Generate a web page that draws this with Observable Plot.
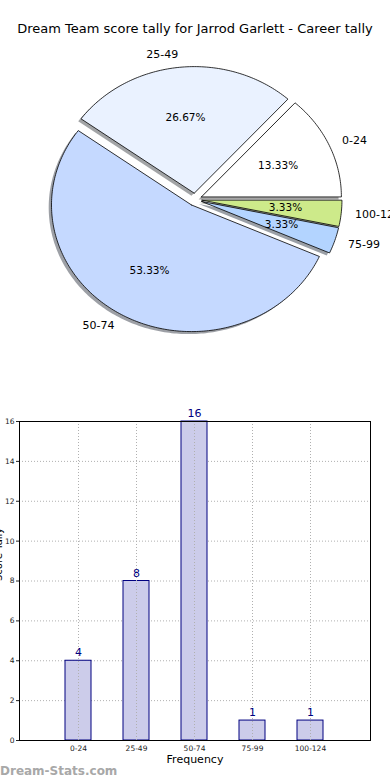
<!DOCTYPE html>
<html><head><meta charset="utf-8">
<script src="https://cdn.jsdelivr.net/npm/d3@7"></script>
<script src="https://cdn.jsdelivr.net/npm/@observablehq/plot@0.6"></script>
<style>
body{margin:0;background:#fff;font-family:"DejaVu Sans",sans-serif;}
#wrap{position:relative;width:390px;height:780px;overflow:hidden;}
#title{position:absolute;top:21px;left:0;width:390px;text-align:center;font-size:13px;color:#000;white-space:nowrap;}
#pie{position:absolute;top:0;left:0;}
#bar{position:absolute;top:400px;left:0;}
#wm{position:absolute;left:0;top:764px;font-size:12px;font-weight:bold;color:#a8a8a8;}
svg{font-family:"DejaVu Sans",sans-serif;}
</style></head>
<body><div id="wrap"><div id="pie"></div><div id="title">Dream Team score tally for Jarrod Garlett - Career tally</div><div id="bar"></div><div id="wm">Dream-Stats.com</div></div>
<script>
const categories = ["0-24", "25-49", "50-74", "75-99", "100-124"];
const tallies = [4, 8, 16, 1, 1];
const sliceColors = ["#ffffff", "#eaf2ff", "#c5d9ff", "#b3d4ff", "#cdea8a"];
const yTicks = [0, 2, 4, 6, 8, 10, 12, 14, 16];

const explode = 0.05, labelDist = 1.1, pctDist = 0.6;
const total = d3.sum(tallies);
const rad = Math.PI / 180;
let acc = 0;
const slices = categories.map((c, i) => {
  const a0 = acc, a1 = acc + tallies[i] / total * 360; acc = a1;
  const mid = (a0 + a1) / 2;
  const ox = explode * Math.cos(mid * rad), oy = explode * Math.sin(mid * rad);
  return {cat: c, value: tallies[i], a0, a1, mid, ox, oy, color: sliceColors[i],
    lx: ox + labelDist * Math.cos(mid * rad), ly: oy + labelDist * Math.sin(mid * rad),
    px: ox + pctDist * Math.cos(mid * rad), py: oy + pctDist * Math.sin(mid * rad),
    pct: (tallies[i] / total * 100).toFixed(2) + "%"};
});
function wedge(s) {
  const pts = [{x: s.ox, y: s.oy}];
  const n = Math.max(4, Math.ceil(s.a1 - s.a0));
  for (let k = 0; k <= n; k++) {
    const a = (s.a0 + (s.a1 - s.a0) * k / n) * rad;
    pts.push({x: s.ox + Math.cos(a), y: s.oy + Math.sin(a)});
  }
  pts.push({x: s.ox, y: s.oy});
  return pts;
}
function shade(c) { const r = d3.rgb(c); return d3.rgb(r.r * 0.3, r.g * 0.3, r.b * 0.3).toString(); }

const pieMarks = [];
slices.forEach(s => pieMarks.push(Plot.line(wedge(s), {x: "x", y: "y", fill: shade(s.color), fillOpacity: 0.5, stroke: "none", dx: -2.8, dy: 2.5})));
slices.forEach(s => pieMarks.push(Plot.line(wedge(s), {x: "x", y: "y", fill: s.color, stroke: "#000", strokeWidth: 0.8, strokeLinejoin: "miter"})));
pieMarks.push(Plot.text(slices.filter(s => s.lx > 0), {x: "lx", y: "ly", text: "cat", textAnchor: "start", fontSize: 11, fill: "#000"}));
pieMarks.push(Plot.text(slices.filter(s => s.lx <= 0), {x: "lx", y: "ly", text: "cat", textAnchor: "end", fontSize: 11, fill: "#000"}));
pieMarks.push(Plot.text(slices, {x: "px", y: "py", text: "pct", fontSize: 10.5, fill: "#000"}));

const pie = Plot.plot({
  width: 390, height: 390, margin: 0,
  x: {domain: [-1, 1], range: [54.5, 334.5], axis: null},
  y: {domain: [-1, 1], range: [325.6, 72.4], axis: null},
  marks: pieMarks
});
document.getElementById("pie").append(pie);

const barData = categories.map((c, i) => ({cat: c, value: tallies[i]}));
const bar = Plot.plot({
  width: 390, height: 380,
  marginLeft: 19, marginRight: 20, marginTop: 21, marginBottom: 40,
  x: {type: "band", domain: categories, paddingInner: 0.55, paddingOuter: 0.775},
  y: {domain: [0, 16]},
  marks: [
    Plot.ruleY(yTicks, {stroke: "#b0b0b0", strokeDasharray: "1,2"}),
    Plot.barY(barData, {x: "cat", y: "value", fill: "#ccccea", stroke: "#000080", strokeWidth: 1}),
    Plot.ruleX(categories, {x: d => d, stroke: "#b0b0b0", strokeDasharray: "1,2"}),
    Plot.text(barData, {x: "cat", y: "value", text: d => String(d.value), dy: -8, fill: "#000080", fontSize: 11}),
    Plot.frame({stroke: "#000", strokeWidth: 1}),
    Plot.axisY({ticks: yTicks, tickSize: 3, tickPadding: 2, fontSize: 7.5, label: null, color: "#222"}),
    Plot.axisX({tickSize: 0, tickPadding: 5, fontSize: 7.5, label: null, color: "#222"}),
    Plot.text(["Frequency"], {frameAnchor: "bottom", dy: 22, fontSize: 11, fill: "#000"}),
    Plot.text(["Score Tally"], {frameAnchor: "left", dx: -21, rotate: -90, fontSize: 10, fill: "#000"})
  ]
});
document.getElementById("bar").append(bar);
</script>
</body></html>
